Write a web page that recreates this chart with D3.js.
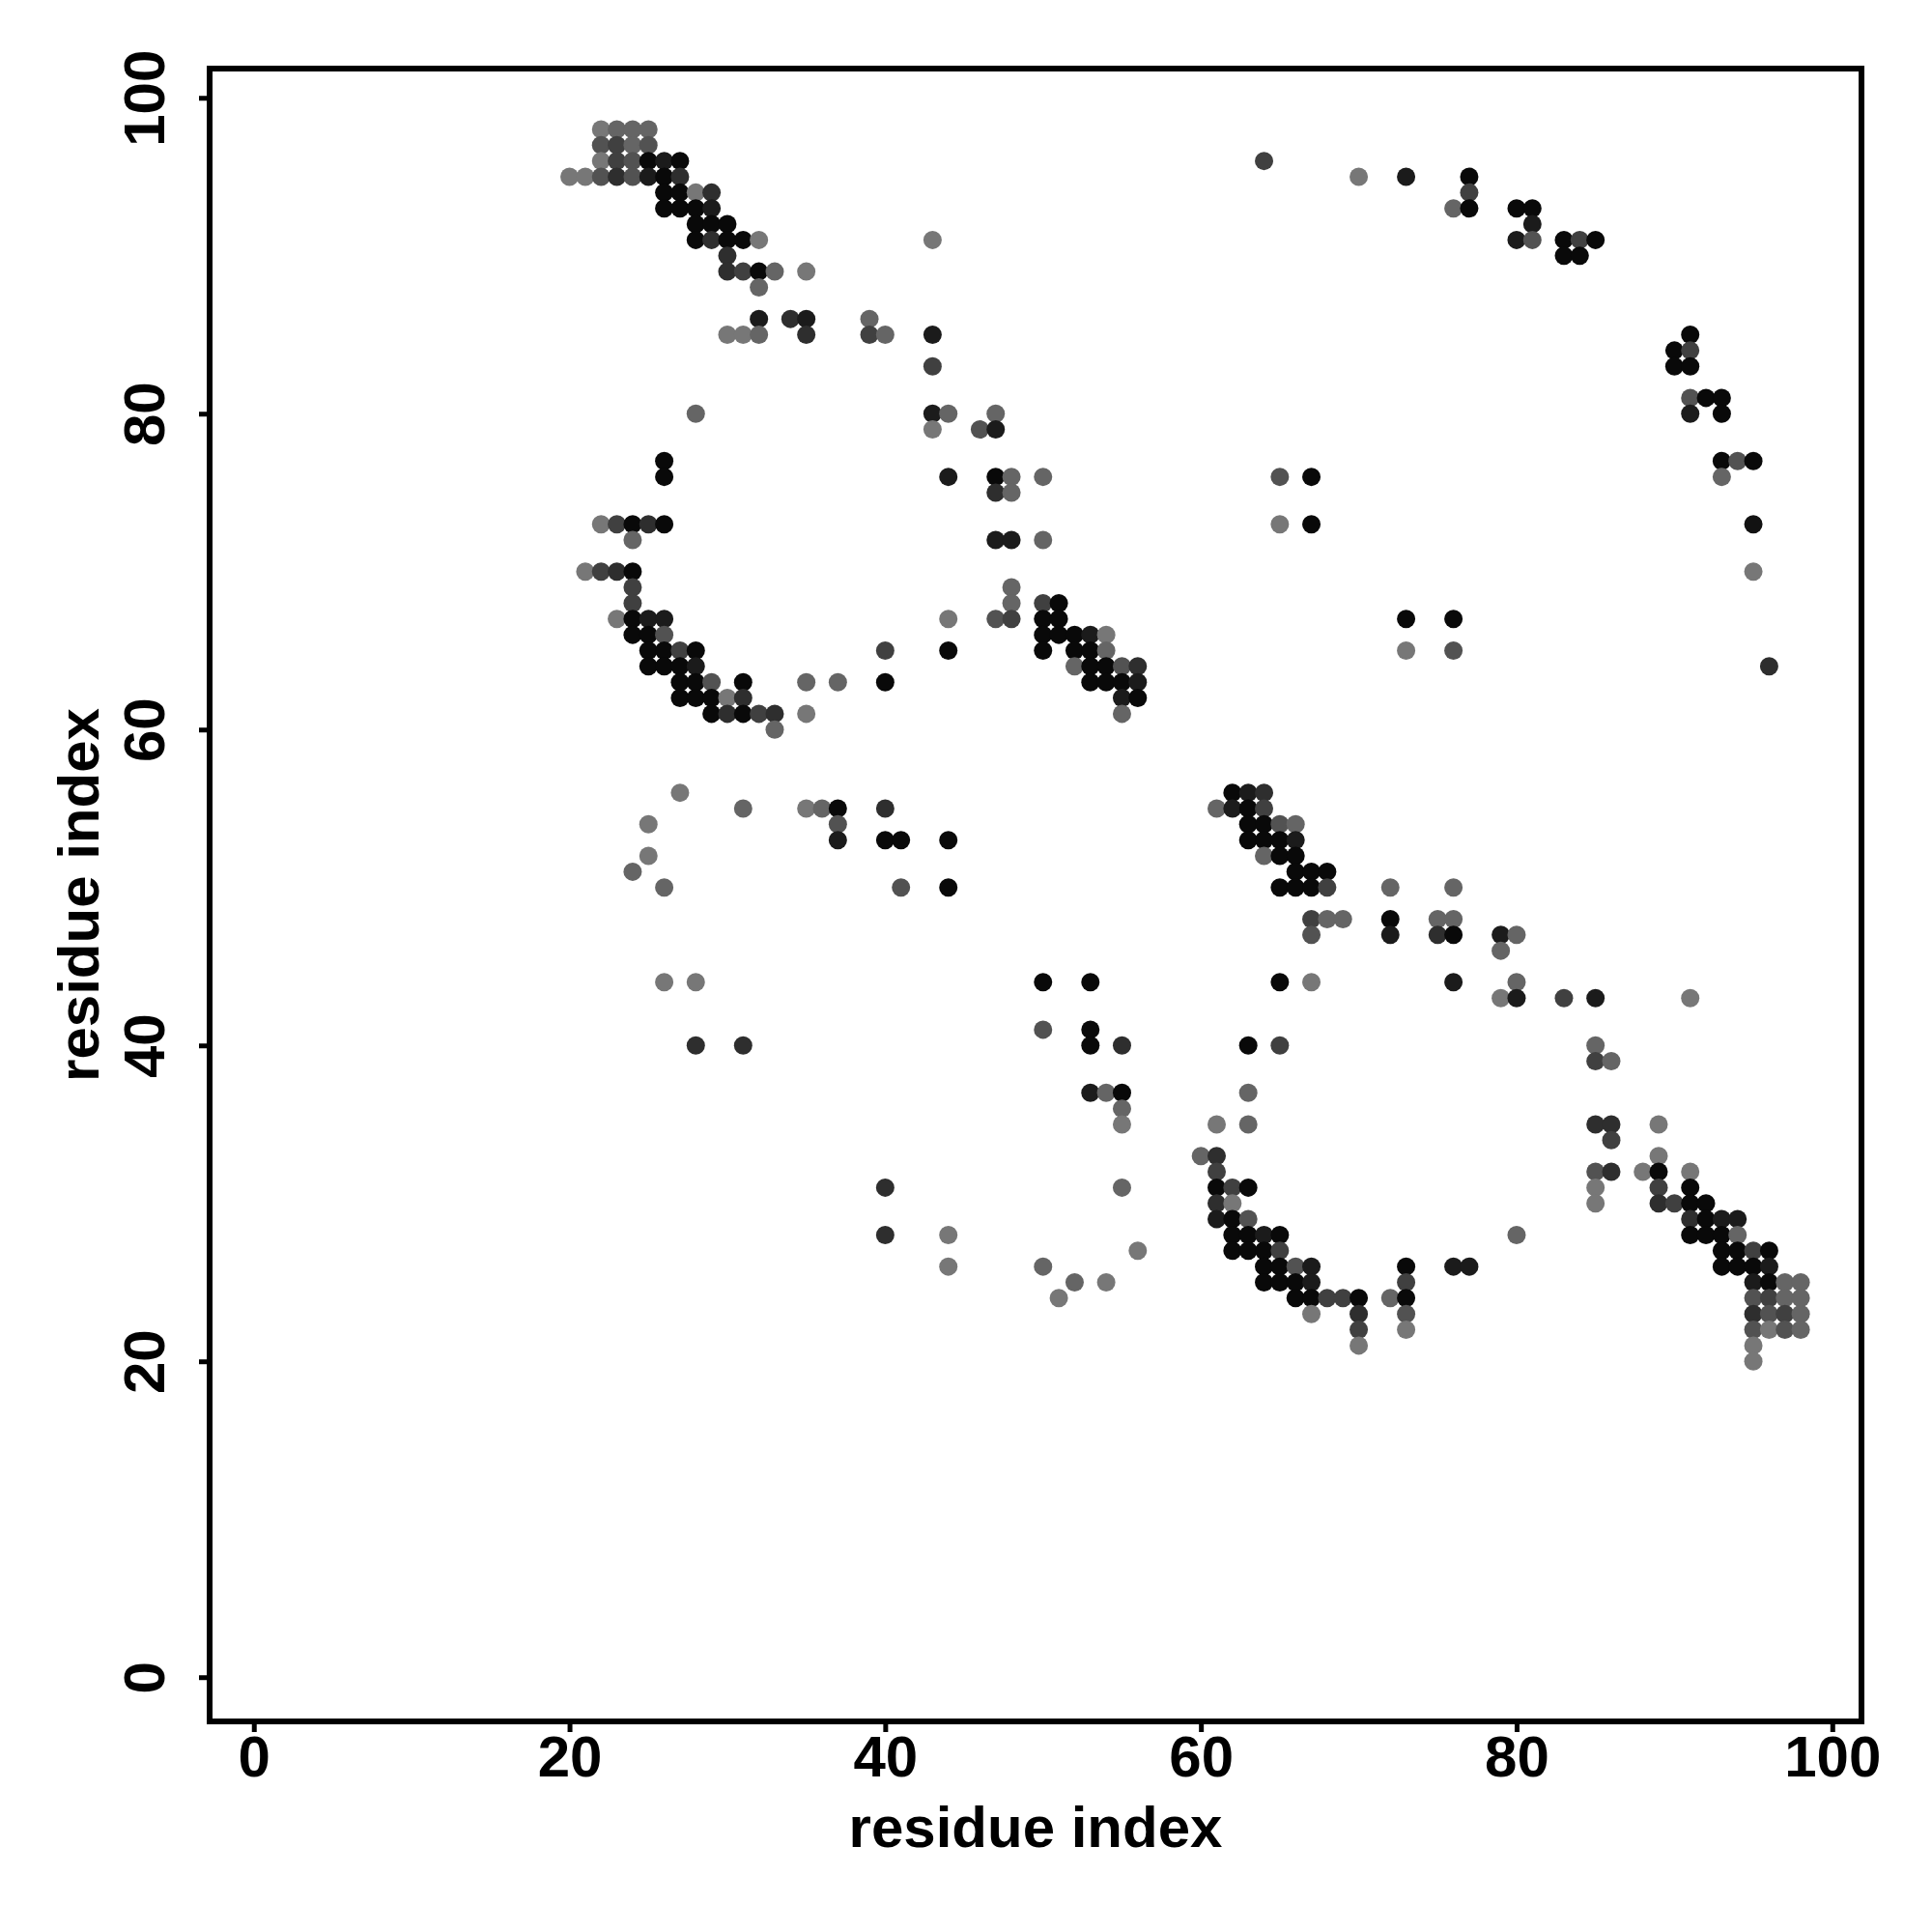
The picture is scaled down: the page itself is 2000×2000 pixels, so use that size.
<!DOCTYPE html>
<html>
<head>
<meta charset="utf-8">
<script src="https://cdn.jsdelivr.net/npm/d3@7"></script>
<style>
  body { margin: 0; background: #fff; }
  svg { display: block; }
  text { font-family: "Liberation Sans", Arial, sans-serif; font-weight: bold; }
</style>
</head>
<body>
<div id="container"></div>
<script>
// predicted contacts, one row per residue j (y), listing partner residues i (x)
var ROW_J = [98, 97, 96, 95, 94, 93, 92, 91, 90, 89, 88, 86, 85, 84, 83, 81, 80, 79, 77, 76,
	     75, 73, 72, 70, 69, 68, 67, 66, 65, 64, 63, 62, 61, 60, 56, 55, 54, 53, 52, 51,
	     50, 48, 47, 46, 44, 43, 41, 40, 39, 37, 36, 35, 34, 33, 32, 31, 30, 29, 28, 27,
	     26, 25, 24, 23, 22, 21, 20];

var ROW_I = [
    [22,23,24,25],
    [22,23,24,25],
    [22,23,24,25,26,27,64],
    [20,21,22,23,24,25,26,27,70,73,77],
    [26,27,28,29,77],
    [26,27,28,29,76,77,80,81],
    [28,29,30,81],
    [28,29,30,31,32,43,80,81,83,84,85],
    [30,83,84],
    [30,31,32,33,35],
    [32],
    [32,34,35,39],
    [30,31,32,35,39,40,43,91],
    [90,91],
    [43,90,91],
    [91,92,93],
    [28,43,44,47,91,93],
    [43,46,47],
    [26,93,94,95],
    [26,44,47,48,50,65,67,93],
    [47,48],
    [22,23,24,25,26,65,67,95],
    [24,47,48,50],
    [21,22,23,24,95],
    [24,48],
    [24,48,50,51],
    [23,24,25,26,44,47,48,50,51,73,76],
    [24,25,26,50,51,52,53,54],
    [25,26,27,28,40,44,50,52,53,54,73,76],
    [25,26,27,28,52,53,54,55,56,96],
    [27,28,29,31,35,37,40,53,54,55,56],
    [27,28,29,30,31,55,56],
    [29,30,31,32,33,35,55],
    [33],
    [27,62,63,64],
    [31,35,36,37,40,61,62,63,64],
    [25,37,63,64,65,66],
    [37,40,41,44,63,64,65,66],
    [25,64,65,66],
    [24,66,67,68],
    [26,41,44,65,66,67,68,72,76],
    [67,68,69,72,75,76],
    [67,72,75,76,79,80],
    [79],
    [26,28,50,53,65,67,76,80],
    [79,80,83,85,91],
    [50,53],
    [28,31,53,55,63,65,85],
    [85,86],
    [53,54,55,63],
    [55],
    [55,61,63,85,86,89],
    [86],
    [60,61,89],
    [61,85,86,88,89,91],
    [40,55,61,62,63,85,89,91],
    [61,62,85,89,90,91,92],
    [61,62,63,91,92,93,94],
    [40,44,62,63,64,65,80,91,92,93,94],
    [56,62,63,64,65,93,94,95,96],
    [44,50,64,65,66,67,73,76,77,93,94,95,96],
    [52,54,64,65,66,67,73,95,96,97,98],
    [51,66,67,68,69,70,72,73,95,96,97,98],
    [67,70,73,95,96,97,98],
    [70,73,95,96,97,98],
    [70,95],
    [95]
];

// contact probability for each entry of ROW_I
var ROW_P = [
    [.35,.45,.45,.45],
    [.55,.65,.45,.55],
    [.35,.65,.55,.95,.85,.95,.65],
    [.35,.35,.55,.75,.55,.85,.95,.75,.35,.85,.95],
    [.95,.95,.35,.75,.65],
    [.95,.95,.95,.85,.45,.95,.95,.95],
    [.95,.95,.95,.85],
    [.95,.75,.95,.95,.35,.35,.85,.55,.95,.65,.95],
    [.75,.95,.95],
    [.75,.65,.95,.45,.35],
    [.45],
    [.85,.75,.85,.45],
    [.35,.35,.45,.75,.65,.45,.85,.95],
    [.95,.65],
    [.65,.95,.95],
    [.55,.95,.95],
    [.45,.85,.45,.45,.85,.95],
    [.35,.55,.85],
    [.95,.95,.55,.95],
    [.95,.85,.95,.45,.45,.55,.95,.45],
    [.75,.45],
    [.35,.65,.95,.75,.95,.35,.95,.9],
    [.45,.85,.85,.45],
    [.35,.65,.75,.95,.35],
    [.65,.45],
    [.65,.45,.65,.95],
    [.35,.95,.85,.85,.35,.55,.65,.95,.95,.95,.95],
    [.95,.95,.55,.95,.95,.95,.85,.35],
    [.95,.95,.65,.95,.65,.95,.95,.95,.95,.45,.35,.55],
    [.95,.95,.95,.85,.45,.95,.95,.55,.75,.75],
    [.95,.95,.55,.95,.45,.45,.95,.95,.95,.95,.85],
    [.95,.95,.95,.35,.75,.85,.95],
    [.95,.75,.95,.65,.75,.35,.45],
    [.45],
    [.35,.95,.85,.75],
    [.45,.35,.45,.95,.75,.45,.85,.95,.65],
    [.35,.55,.95,.95,.55,.45],
    [.85,.95,.95,.95,.95,.95,.95,.85],
    [.35,.45,.95,.95],
    [.45,.95,.95,.95],
    [.45,.55,.95,.95,.95,.95,.65,.45,.45],
    [.65,.45,.45,.95,.45,.45],
    [.55,.85,.75,.95,.85,.45],
    [.45],
    [.35,.35,.95,.95,.95,.35,.85,.45],
    [.35,.85,.65,.85,.35],
    [.55,.95],
    [.75,.75,.95,.75,.95,.65,.45],
    [.65,.45],
    [.85,.45,.95,.45],
    [.45],
    [.35,.35,.45,.75,.75,.35],
    [.65],
    [.45,.75,.35],
    [.65,.55,.75,.35,.95,.35],
    [.75,.45,.95,.65,.95,.35,.65,.95],
    [.75,.35,.35,.75,.65,.95,.95],
    [.85,.95,.55,.75,.95,.85,.85],
    [.75,.35,.95,.95,.85,.95,.45,.95,.95,.95,.45],
    [.35,.95,.95,.95,.65,.95,.95,.65,.95],
    [.35,.45,.95,.95,.55,.85,.95,.85,.85,.95,.95,.95,.85],
    [.45,.35,.95,.95,.95,.85,.65,.85,.95,.45,.45],
    [.35,.95,.95,.65,.65,.95,.45,.95,.55,.65,.45,.45],
    [.35,.75,.55,.75,.55,.65,.45],
    [.65,.35,.55,.35,.55,.45],
    [.35,.35],
    [.35]
];

var TICKS = [0, 20, 40, 60, 80, 100];
var AXIS_TITLE = "residue index";

var WIDTH = 2000, HEIGHT = 2000;
var LEFT = 217, RIGHT = 1927, TOP = 71, BOTTOM = 1782;
var DOT_R = 9.5;

var flatten = function()
{
    var out = [];
    ROW_J.forEach(function( j, r ){
	ROW_I[r].forEach(function( i, k ){
	    out.push({ i: i, j: j, p: ROW_P[r][k] });
	});
    });
    return out;
}

var draw = function()
{
    var contacts = flatten();

    var svg = d3.select( "#container" ).append( "svg" )
	.attr( "width", WIDTH )
	.attr( "height", HEIGHT );

    svg.append( "rect" )
	.attr( "width", WIDTH )
	.attr( "height", HEIGHT )
	.attr( "fill", "#fff" );

    var x = d3.scaleLinear().domain( [-2.8, 101.85] ).range( [LEFT, RIGHT] );
    var y = d3.scaleLinear().domain( [-2.8, 101.85] ).range( [BOTTOM, TOP] );

    var shade = d3.scaleLinear()
	.domain( [0.3, 1.0] )
	.range( ["#808080", "#000000"] )
	.clamp( true );

    svg.append( "g" )
	.selectAll( "circle" )
	.data( contacts )
	.enter()
	.append( "circle" )
	.attr( "cx", function(d){ return x(d.i); } )
	.attr( "cy", function(d){ return y(d.j); } )
	.attr( "r", DOT_R )
	.attr( "fill", function(d){ return shade(d.p); } );

    // x axis
    var xg = svg.append( "g" )
	.attr( "transform", "translate(0," + BOTTOM + ")" )
	.call( d3.axisBottom( x ).tickValues( TICKS ).tickSize( 11 ) );

    xg.select( ".domain" ).remove();
    xg.selectAll( "line" ).attr( "stroke", "#000" ).attr( "stroke-width", 5 );
    xg.selectAll( "text" )
	.attr( "y", 57 )
	.attr( "dy", 0 )
	.attr( "fill", "#000" )
	.style( "font-size", "60px" );

    // y axis, labels turned parallel to the axis
    var yg = svg.append( "g" )
	.attr( "transform", "translate(" + LEFT + ",0)" )
	.call( d3.axisLeft( y ).tickValues( TICKS ).tickSize( 11 ) );

    yg.select( ".domain" ).remove();
    yg.selectAll( "line" ).attr( "stroke", "#000" ).attr( "stroke-width", 5 );
    yg.selectAll( "text" )
	.attr( "x", 0 )
	.attr( "y", -47 )
	.attr( "dy", 0 )
	.attr( "transform", "rotate(-90)" )
	.attr( "text-anchor", "middle" )
	.attr( "fill", "#000" )
	.style( "font-size", "60px" );

    // frame
    svg.append( "rect" )
	.attr( "x", LEFT )
	.attr( "y", TOP )
	.attr( "width", RIGHT - LEFT )
	.attr( "height", BOTTOM - TOP )
	.attr( "fill", "none" )
	.attr( "stroke", "#000" )
	.attr( "stroke-width", 6 );

    svg.append( "text" )
	.attr( "x", ( LEFT + RIGHT ) / 2 )
	.attr( "y", 1912 )
	.attr( "text-anchor", "middle" )
	.style( "font-size", "60px" )
	.text( AXIS_TITLE );

    svg.append( "text" )
	.attr( "transform", "translate(102," + ( TOP + BOTTOM ) / 2 + ") rotate(-90)" )
	.attr( "text-anchor", "middle" )
	.style( "font-size", "60px" )
	.text( AXIS_TITLE );
}

draw();
</script>
</body>
</html>
